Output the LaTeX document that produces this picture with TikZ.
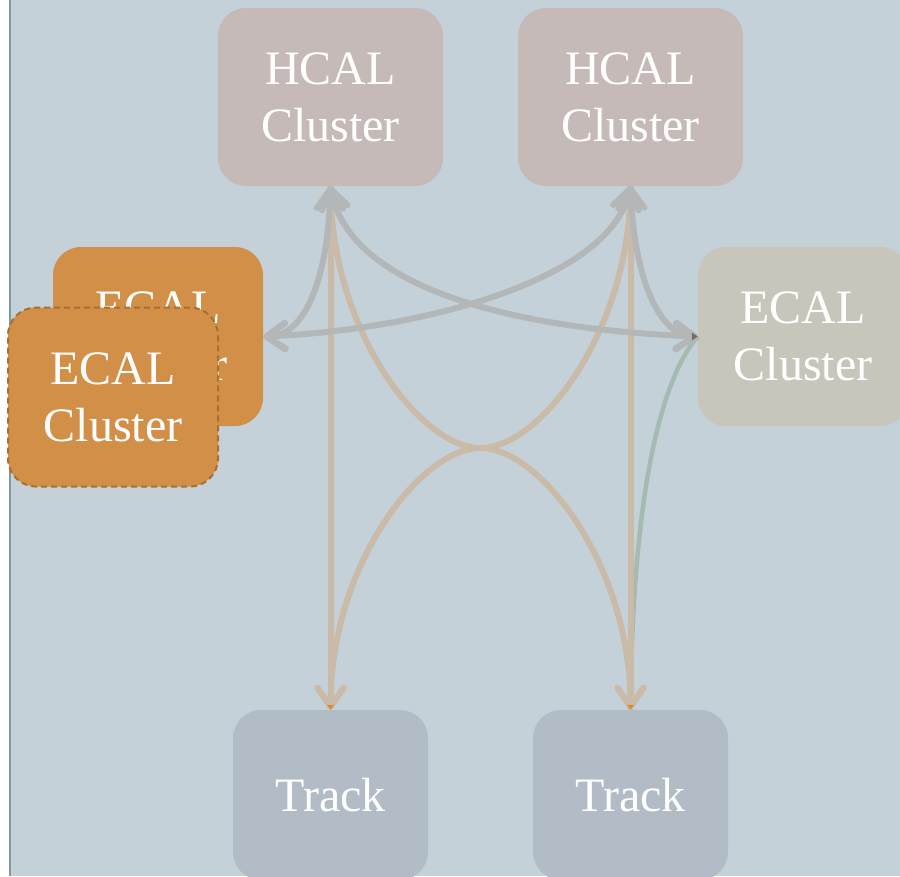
\documentclass[tikz,border=0pt]{standalone}
\usepackage{fontspec}
\setmainfont{Liberation Serif}
\usetikzlibrary{arrows.meta}
\definecolor{bgc}{HTML}{C5D1D8}
\definecolor{edgeline}{HTML}{7F9A9B}
\definecolor{hcalc}{HTML}{C6BAB9}
\definecolor{ecalr}{HTML}{C8C5BA}
\definecolor{ecall}{HTML}{D18F48}
\definecolor{ecalb}{HTML}{A86F33}
\definecolor{trackc}{HTML}{B2BCC6}
\definecolor{grayarr}{HTML}{B4B7B8}
\definecolor{tanarr}{HTML}{C9BBA8}
\definecolor{greenarr}{HTML}{A5BBB0}
\definecolor{tipor}{HTML}{D98B3A}
\definecolor{tipdark}{HTML}{7C6B5E}
\tikzset{
  box/.style={rounded corners=28pt, inner sep=0pt, text=white, align=center,
    font=\fontsize{48}{57}\selectfont},
  hcal/.style={box, fill=hcalc, minimum width=225pt, minimum height=178pt},
  ecal/.style={box, minimum width=210pt, minimum height=179pt},
  trk/.style={box, fill=trackc, minimum width=195pt, minimum height=170pt},
  barb/.tip={Straight Barb[length=19pt,width=26pt,round]},
  gedge/.style={draw=grayarr, line width=6pt, barb-barb},
  tedge/.style={draw=tanarr, line width=6pt, -barb},
  gredge/.style={draw=greenarr, line width=4.5pt},
}
\begin{document}
\begin{tikzpicture}[x=1pt,y=-1pt]
\useasboundingbox (0,0) rectangle (900,876);
\fill[white] (0,0) rectangle (900,876);
\fill[bgc] (9,0) rectangle (900,876);
\draw[edgeline, line width=2pt] (10,0) -- (10,876);

\node[hcal] (h1) at (330.5,97) {HCAL\\Cluster};
\node[hcal] (h2) at (630.5,97) {HCAL\\Cluster};
\node[ecal, fill=ecall] (el) at (158,336.5) {ECAL\\Cluster};
\node[ecal, fill=ecall, draw=ecalb, line width=2pt, dash pattern=on 6pt off 4pt] (ef) at (113,397) {ECAL\\Cluster};
\node[ecal, fill=ecalr] (er) at (803,336.5) {ECAL\\Cluster};
\node[trk] (t1) at (330.5,795) {Track};
\node[trk] (t2) at (630.5,795) {Track};
\coordinate (mid) at (480.5,448);

% green
\draw[gredge] (t2.north) .. controls +(1.5,-210) and +(-38,43.5) .. (er.west);
% tan
\draw[tedge] (h1.south) -- (t1.north);
\draw[tedge] (h2.south) -- (t2.north);
\draw[tedge] (h1.south) .. controls +(0,144) and +(-60,0) .. (mid)
  .. controls +(60,0) and +(0,-144) .. (t2.north);
\draw[tedge] (h2.south) .. controls +(0,144) and +(60,0) .. (mid)
  .. controls +(-60,0) and +(0,-144) .. (t1.north);
% gray
\draw[gedge] (h1.south) .. controls +(-3,104) and +(37,0) .. (el.east);
\draw[gedge] (h1.south) .. controls +(20,104) and +(-178,-7) .. (er.west);
\draw[gedge] (h2.south) .. controls +(-20.5,94) and +(157,-6.5) .. (el.east);
\draw[gedge] (h2.south) .. controls +(4,104) and +(-33,0) .. (er.west);
% tips
\fill[tipor] (t1.north) -- ++(-3.5,-5) -- ++(7,0) -- cycle;
\fill[tipor] (t2.north) -- ++(-3.5,-5) -- ++(7,0) -- cycle;
\fill[tipdark] (er.west) -- ++(-6,-4) -- ++(0,8) -- cycle;
\end{tikzpicture}
\end{document}
